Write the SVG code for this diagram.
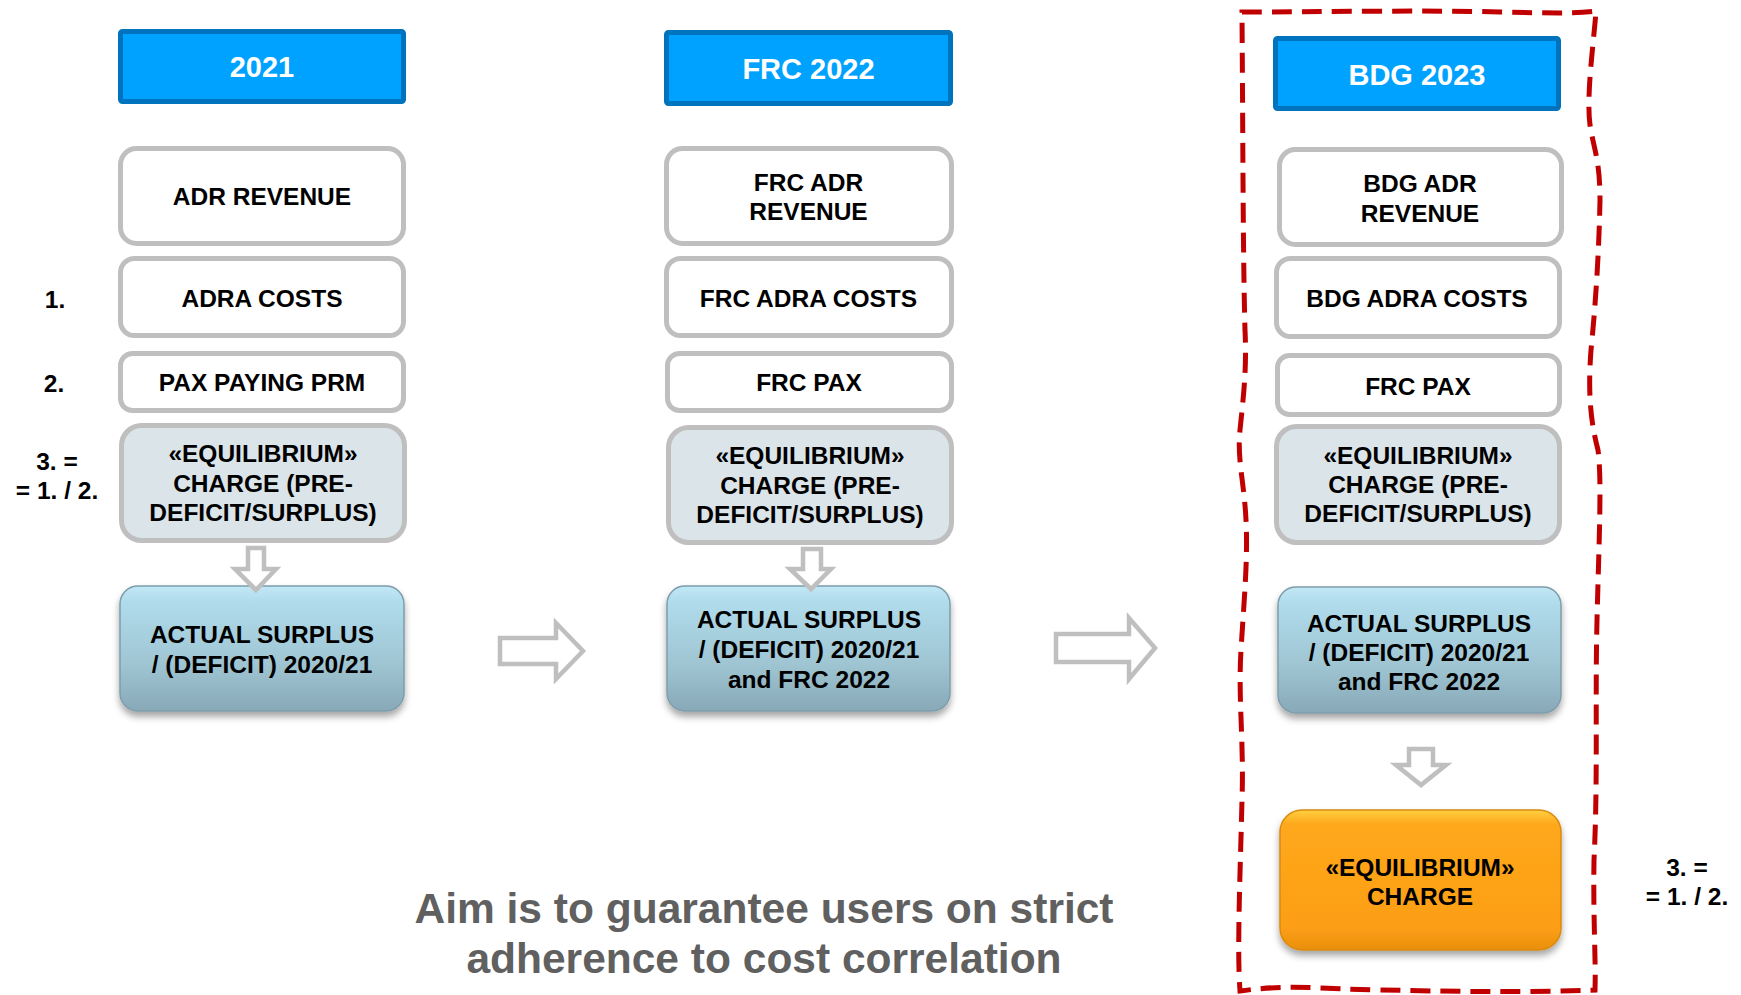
<svg xmlns="http://www.w3.org/2000/svg" width="1741" height="995" viewBox="0 0 1741 995">
<defs>
<style>
text{font-family:"Liberation Sans",Arial,Helvetica,sans-serif;font-weight:bold;text-anchor:middle}
.hdr rect{fill:#00A2FF;stroke:#0073BE;stroke-width:5}
.hdr text{fill:#FFFFFF;font-size:29px}
.wbox rect{fill:#FFFFFF;stroke:#BFBFBF;stroke-width:5}
.ebox rect{fill:#DAE4E9;stroke:#BFBFBF;stroke-width:5}
.abox rect{fill:url(#gBlue);stroke:#7E9DAB;stroke-width:1.5;filter:url(#sh)}
.obox rect{fill:url(#gOrange);stroke:#D98B10;stroke-width:1.5;filter:url(#sh)}
.t{fill:#000000;font-size:24.5px}
.lbl{fill:#000000;font-size:24.5px}
.aim{fill:#606060;font-size:42.5px}
.arr{fill:#FFFFFF;stroke:#BFBFBF;stroke-width:4.5;stroke-linejoin:miter}
.red{fill:none;stroke:#C00000;stroke-width:5;stroke-dasharray:20 10}
</style>
<linearGradient id="gBlue" x1="0" y1="0" x2="0" y2="1">
<stop offset="0" stop-color="#C2E8F6"/>
<stop offset="0.12" stop-color="#B0DCEC"/>
<stop offset="0.6" stop-color="#A0C6D4"/>
<stop offset="1" stop-color="#88A9B7"/>
</linearGradient>
<linearGradient id="gOrange" x1="0" y1="0" x2="0" y2="1">
<stop offset="0" stop-color="#FFD040"/>
<stop offset="0.1" stop-color="#FFA81C"/>
<stop offset="0.85" stop-color="#FC9E14"/>
<stop offset="1" stop-color="#E88F0E"/>
</linearGradient>
<filter id="sh" x="-10%" y="-10%" width="120%" height="130%">
<feDropShadow dx="0" dy="5" stdDeviation="3.5" flood-color="#000000" flood-opacity="0.35"/>
</filter>
</defs>
<rect width="1741" height="995" fill="#FFFFFF"/>

<!-- column 1 -->
<g id="hdr-2021" class="hdr"><rect x="120.5" y="31.5" width="283" height="70" rx="2"/><text x="262" y="76.5">2021</text></g>
<g id="adr-revenue" class="wbox"><rect x="120.5" y="148.5" width="283" height="95" rx="16"/><text class="t" x="262" y="205">ADR REVENUE</text></g>
<g id="adra-costs" class="wbox"><rect x="120.5" y="258.5" width="283" height="77" rx="14"/><text class="t" x="262" y="307">ADRA COSTS</text></g>
<g id="pax-paying" class="wbox"><rect x="120.5" y="353.5" width="283" height="57" rx="12"/><text class="t" x="262" y="391">PAX PAYING PRM</text></g>
<g id="eq-2021" class="ebox"><rect x="121.5" y="425.5" width="283" height="115" rx="20"/><text class="t" x="263" y="462">«EQUILIBRIUM»</text><text class="t" x="263" y="492">CHARGE (PRE-</text><text class="t" x="263" y="521">DEFICIT/SURPLUS)</text></g>
<g id="actual-2021" class="abox"><rect x="120" y="586" width="284" height="125" rx="18"/><text class="t" x="262" y="643">ACTUAL SURPLUS</text><text class="t" x="262" y="673">/ (DEFICIT) 2020/21</text></g>

<!-- column 2 -->
<g id="hdr-frc2022" class="hdr"><rect x="666.5" y="32.5" width="284" height="71" rx="2"/><text x="808.5" y="79">FRC 2022</text></g>
<g id="frc-adr-revenue" class="wbox"><rect x="666.5" y="148.5" width="285" height="95" rx="16"/><text class="t" x="808.5" y="191">FRC ADR</text><text class="t" x="808.5" y="220">REVENUE</text></g>
<g id="frc-adra-costs" class="wbox"><rect x="666.5" y="258.5" width="285" height="77" rx="14"/><text class="t" x="808.5" y="307">FRC ADRA COSTS</text></g>
<g id="frc-pax" class="wbox"><rect x="667.5" y="353.5" width="284" height="57" rx="12"/><text class="t" x="809" y="391">FRC PAX</text></g>
<g id="eq-frc" class="ebox"><rect x="668.5" y="427.5" width="283" height="115" rx="20"/><text class="t" x="810" y="464">«EQUILIBRIUM»</text><text class="t" x="810" y="494">CHARGE (PRE-</text><text class="t" x="810" y="523">DEFICIT/SURPLUS)</text></g>
<g id="actual-frc" class="abox"><rect x="667" y="586" width="283" height="125" rx="18"/><text class="t" x="809" y="628">ACTUAL SURPLUS</text><text class="t" x="809" y="658">/ (DEFICIT) 2020/21</text><text class="t" x="809" y="688">and FRC 2022</text></g>

<!-- column 3 -->
<g id="hdr-bdg2023" class="hdr"><rect x="1275.5" y="38.5" width="283" height="70" rx="2"/><text x="1417" y="85">BDG 2023</text></g>
<g id="bdg-adr-revenue" class="wbox"><rect x="1279.5" y="149.5" width="282" height="95" rx="16"/><text class="t" x="1420" y="192">BDG ADR</text><text class="t" x="1420" y="222">REVENUE</text></g>
<g id="bdg-adra-costs" class="wbox"><rect x="1276.5" y="258.5" width="283" height="78" rx="14"/><text class="t" x="1417" y="307">BDG ADRA COSTS</text></g>
<g id="bdg-frc-pax" class="wbox"><rect x="1277.5" y="355.5" width="282" height="59" rx="12"/><text class="t" x="1418" y="395">FRC PAX</text></g>
<g id="eq-bdg" class="ebox"><rect x="1276.5" y="426.5" width="283" height="116" rx="20"/><text class="t" x="1418" y="464">«EQUILIBRIUM»</text><text class="t" x="1418" y="493">CHARGE (PRE-</text><text class="t" x="1418" y="522">DEFICIT/SURPLUS)</text></g>
<g id="actual-bdg" class="abox"><rect x="1278" y="587" width="283" height="126" rx="18"/><text class="t" x="1419" y="632">ACTUAL SURPLUS</text><text class="t" x="1419" y="661">/ (DEFICIT) 2020/21</text><text class="t" x="1419" y="690">and FRC 2022</text></g>
<g id="eq-charge" class="obox"><rect x="1280" y="810" width="281" height="140" rx="22"/><text class="t" x="1420" y="876">«EQUILIBRIUM»</text><text class="t" x="1420" y="905">CHARGE</text></g>

<!-- connectors -->
<g id="connectors">
<path class="arr" d="M248,548 H264 V569 H276 L256,590 L235,569 H248 Z"/>
<path class="arr" d="M803,549 H821 V569 H831 L811,589 L790,569 H803 Z"/>
<path class="arr" d="M1409,749 H1433 V765 H1446 L1421,785 L1396,765 H1409 Z"/>
<path class="arr" d="M500,638 H556 V623 L583,651 L556,679 V664 H500 Z"/>
<path class="arr" d="M1056,634 H1129 V618 L1155,648 L1129,679 V662 H1056 Z"/>
</g>

<!-- red dashed outline -->
<path id="focus-outline" class="red" d="M1242,12 C1320,12 1420,10 1500,12 C1550,13 1575,14 1596,11 C1594,40 1586,95 1590,125 C1594,150 1600,160 1600,200 C1599,250 1596,300 1591,350 C1588,390 1590,420 1598,450 C1602,480 1599,540 1597,620 C1595,700 1598,780 1594,860 C1593,920 1596,960 1595,990 C1520,993 1440,991 1380,990 C1320,989 1290,984 1240,991 C1237,950 1240,880 1242,800 C1244,740 1238,700 1241,650 C1244,600 1248,560 1246,520 C1244,480 1237,460 1240,430 C1243,400 1247,370 1245,330 C1243,260 1243,150 1242,12 Z"/>

<!-- labels -->
<g id="labels">
<text class="lbl" x="55" y="308">1.</text>
<text class="lbl" x="54" y="392">2.</text>
<text class="lbl" x="57" y="470">3. =</text>
<text class="lbl" x="57" y="499">= 1. / 2.</text>
<text class="lbl" x="1687" y="876">3. =</text>
<text class="lbl" x="1687" y="905">= 1. / 2.</text>
<text class="aim" x="764" y="923">Aim is to guarantee users on strict</text>
<text class="aim" x="764" y="973">adherence to cost correlation</text>
</g>
</svg>
